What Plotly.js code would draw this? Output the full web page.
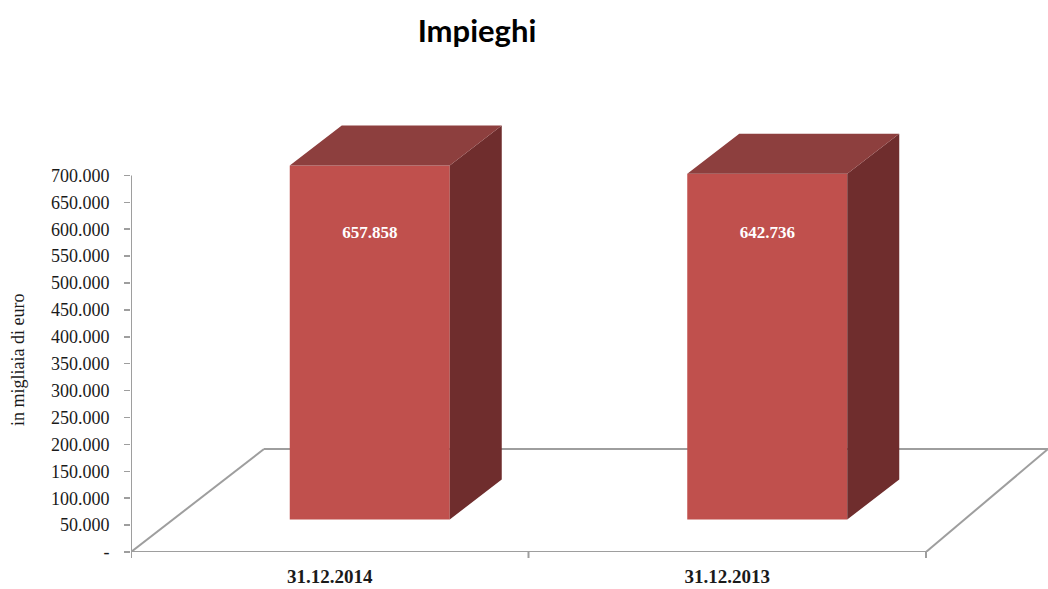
<!DOCTYPE html>
<html>
<head>
<meta charset="utf-8">
<script src="https://cdn.plot.ly/plotly-3.0.1.min.js"></script>
<style>
  html, body { margin: 0; padding: 0; background: #ffffff; }
  #chart { width: 1048px; height: 589px; }
</style>
</head>
<body>
<div id="chart"></div>
<script>
// Values in thousands of euro
const categories = ['31.12.2014', '31.12.2013'];
const impieghi = [657858, 642736];

// Value axis ticks
const yTickValues = [0, 50000, 100000, 150000, 200000, 250000, 300000, 350000,
                     400000, 450000, 500000, 550000, 600000, 650000, 700000];
const yTickLabels = ['-', '50.000', '100.000', '150.000', '200.000', '250.000', '300.000', '350.000',
                     '400.000', '450.000', '500.000', '550.000', '600.000', '650.000', '700.000'];

// Pseudo-3D geometry (pixels)
const W = 1048, H = 589;
const M = { l: 131, r: 0, t: 100, b: 37 };
const plotW = W - M.l - M.r;
const plotH = H - M.t - M.b;
const pxPerCat = 397.5;                 // horizontal pixels per category slot
const pxPerUnit = 376.6 / 700000;       // vertical pixels per value unit
const barPlaneShift = { x: 40, y: 32.5 }; // bars stand slightly behind the front edge
const barFrontPx = 160;
const barDepth = { x: 52, y: 40 };
const floorDepthLeft = { x: 133, y: 103 };
const floorDepthRight = { x: 122, y: 103 };

const xMin = -0.5, xMax = xMin + plotW / pxPerCat;
const yMax = plotH / pxPerUnit;
const sx = barPlaneShift.x / pxPerCat, sy = barPlaneShift.y / pxPerUnit;
const bw = barFrontPx / pxPerCat;
const ddx = barDepth.x / pxPerCat, ddy = barDepth.y / pxPerUnit;

const colFront = '#C0504D', colTop = '#8D3F3E', colSide = '#6F2D2D';
const gridGray = '#9E9E9E';

// Top and side faces of each block, built from the values
const topX = [], topY = [], sideX = [], sideY = [];
impieghi.forEach((v, i) => {
  const l = i - bw / 2, r = i + bw / 2;
  topX.push(l, r, r + ddx, l + ddx, l, null);
  topY.push(v, v, v + ddy, v + ddy, v, null);
  sideX.push(r, r + ddx, r + ddx, r, r, null);
  sideY.push(0, ddy, v + ddy, v, 0, null);
});

const xIdx = categories.map((c, i) => i);
const labelLevel = impieghi.map(() => (520 - 234) / pxPerUnit);

const traces = [
  {
    type: 'bar', x: xIdx, y: impieghi, xaxis: 'x2', yaxis: 'y2',
    width: bw, marker: { color: colFront, line: { width: 0 } },
    hoverinfo: 'skip', showlegend: false
  },
  {
    type: 'scatter', mode: 'lines', x: sideX, y: sideY, xaxis: 'x2', yaxis: 'y2',
    fill: 'toself', fillcolor: colSide, line: { width: 0, color: colSide },
    hoverinfo: 'skip', showlegend: false
  },
  {
    type: 'scatter', mode: 'lines', x: topX, y: topY, xaxis: 'x2', yaxis: 'y2',
    fill: 'toself', fillcolor: colTop, line: { width: 0, color: colTop },
    hoverinfo: 'skip', showlegend: false
  },
  {
    type: 'scatter', mode: 'text', x: xIdx, y: labelLevel, xaxis: 'x2', yaxis: 'y2',
    text: impieghi.map(v => v.toLocaleString('it-IT')),
    textposition: 'middle center',
    textfont: { family: 'Liberation Serif, serif', size: 17, color: '#ffffff', weight: 'bold' },
    hoverinfo: 'skip', showlegend: false
  }
];

// Floor outline and axis lines
const fy = floorDepthLeft.y / pxPerUnit;
const fdl = floorDepthLeft.x / pxPerCat, fdr = floorDepthRight.x / pxPerCat;
const line = { color: gridGray, width: 2 };
const shapes = [
  { type: 'line', xref: 'x', yref: 'y', x0: -0.5, y0: 0, x1: -0.5 + fdl, y1: fy, line, layer: 'below' },
  { type: 'line', xref: 'x', yref: 'y', x0: -0.5 + fdl, y0: fy, x1: 2.5, y1: fy, line, layer: 'below' },
  { type: 'line', xref: 'x', yref: 'y', x0: 1.5, y0: 0, x1: 1.5 + fdr, y1: fy, line, layer: 'below' },
  { type: 'line', xref: 'x', yref: 'y', x0: -0.5, y0: 0, x1: 1.5, y1: 0, line },
  { type: 'line', xref: 'x', yref: 'y', x0: -0.5, y0: 0, x1: -0.5, y1: 700000, line },
  { type: 'line', xref: 'x', yref: 'paper', x0: 0.5, x1: 0.5, y0: 0, y1: -6 / plotH, line },
  { type: 'line', xref: 'x', yref: 'paper', x0: 1.5, x1: 1.5, y0: 0, y1: -6 / plotH, line },
  { type: 'line', xref: 'x', yref: 'paper', x0: -0.5, x1: -0.5, y0: 0, y1: -6 / plotH, line }
];

const layout = {
  width: W, height: H,
  margin: M,
  paper_bgcolor: '#ffffff', plot_bgcolor: 'rgba(0,0,0,0)',
  showlegend: false,
  title: {
    text: '<b>Impieghi</b>',
    font: { family: 'Lato, Open Sans, sans-serif', size: 31, color: '#000000' },
    xref: 'container', yref: 'container', x: 477 / W, y: 1 - 31 / H,
    xanchor: 'center', yanchor: 'middle'
  },
  xaxis: {
    range: [xMin, xMax], showgrid: false, zeroline: false, showline: false,
    tickvals: xIdx, ticktext: categories, ticks: '', ticklabelstandoff: 11,
    tickfont: { family: 'Liberation Serif, serif', size: 19, color: '#1a1a1a', weight: 'bold' },
    fixedrange: true
  },
  yaxis: {
    range: [0, yMax], showgrid: false, zeroline: false, showline: false,
    tickvals: yTickValues, ticktext: yTickLabels,
    ticks: 'outside', ticklen: 6, tickwidth: 1.5, tickcolor: gridGray, ticklabelstandoff: 11,
    tickfont: { family: 'Liberation Serif, serif', size: 18, color: '#1a1a1a' },
    fixedrange: true
  },
  xaxis2: { overlaying: 'x', range: [xMin - sx, xMax - sx], visible: false, fixedrange: true },
  yaxis2: { overlaying: 'y', range: [-sy, yMax - sy], visible: false, fixedrange: true },
  shapes,
  annotations: [{
    text: 'in migliaia di euro', textangle: -90,
    xref: 'paper', yref: 'paper', x: (18 - M.l) / plotW, y: (H - M.b - 360) / plotH,
    xanchor: 'center', yanchor: 'middle', showarrow: false,
    font: { family: 'Liberation Serif, serif', size: 18, color: '#1a1a1a' }
  }]
};

Plotly.newPlot('chart', traces, layout, { displayModeBar: false, staticPlot: true });
</script>
</body>
</html>
